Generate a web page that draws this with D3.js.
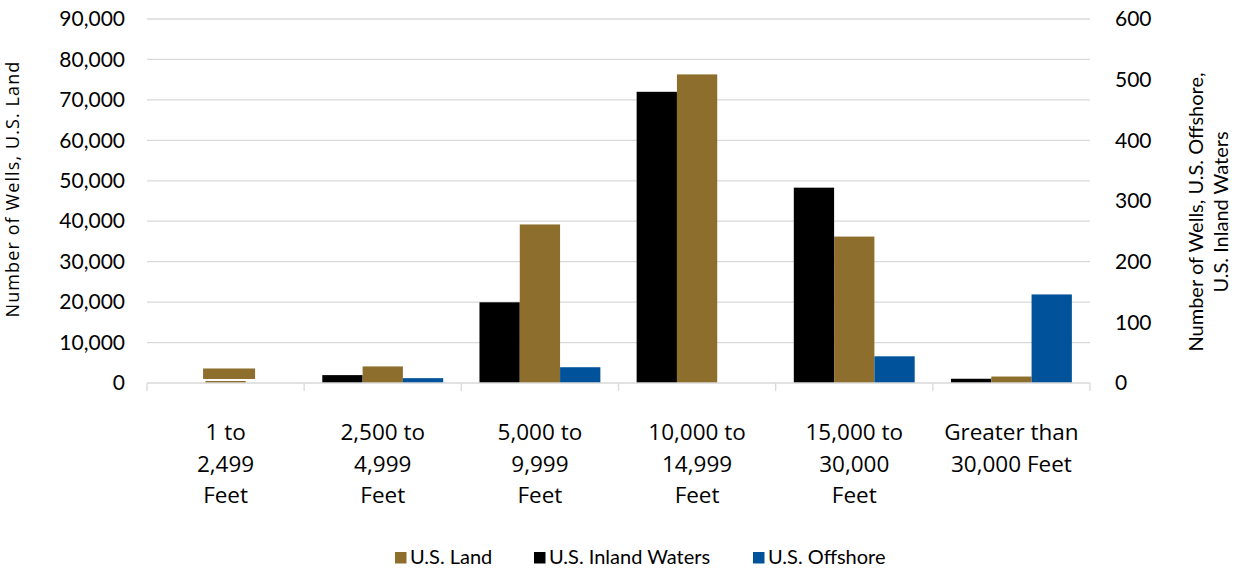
<!DOCTYPE html>
<html><head><meta charset="utf-8">
<script src="https://cdn.jsdelivr.net/npm/d3@7"></script>
<style>
body{margin:0;background:#fff;}
text{font-family:Lato,"Open Sans",sans-serif;fill:#000;}
</style></head>
<body><svg id="c" width="1245" height="570"></svg>
<script>
const categories = [["1 to","2,499","Feet"],["2,500 to","4,999","Feet"],["5,000 to","9,999","Feet"],["10,000 to","14,999","Feet"],["15,000 to","30,000","Feet"],["Greater than","30,000 Feet"]];
const seriesNames = ["U.S. Inland Waters","U.S. Land","U.S. Offshore"];
const landValues = [500, 4100, 39200, 76300, 36200, 1600];
const inlandValues = [0, 13, 133, 480, 322, 7];
const offshoreValues = [0, 8, 26, 0, 44, 146];
const leftTicks = [0,10000,20000,30000,40000,50000,60000,70000,80000,90000];
const rightTicks = [0,100,200,300,400,500,600];
const legendOrder = ["U.S. Land","U.S. Inland Waters","U.S. Offshore"];
const colors = {"U.S. Land":"#8e6e2c","U.S. Inland Waters":"#000000","U.S. Offshore":"#00539b"};

(function(){
const svg = d3.select("#c");
const pL = 147, pR = 1090, pT = 19, pB = 383;
const x0 = d3.scaleBand().domain(d3.range(categories.length)).range([pL,pR]).padding(0);
const x1 = d3.scaleBand().domain(seriesNames).range([0,x0.bandwidth()]).paddingInner(0).paddingOuter(0.45);
const yL = d3.scaleLinear().domain([0,90000]).range([pB,pT]);
const yR = d3.scaleLinear().domain([0,600]).range([pB,pT]);

// gridlines
svg.append("g").selectAll("line").data(leftTicks.slice(1)).join("line")
  .attr("x1",pL).attr("x2",pR).attr("y1",d=>yL(d)).attr("y2",d=>yL(d))
  .attr("stroke","#d9d9d9").attr("stroke-width",1.3);

// bars
const rows = categories.map((c,i)=>[
  {s:"U.S. Inland Waters", v:inlandValues[i], y:yR},
  {s:"U.S. Land", v:landValues[i], y:yL},
  {s:"U.S. Offshore", v:offshoreValues[i], y:yR}
]);
const g = svg.append("g").selectAll("g").data(rows).join("g")
  .attr("transform",(d,i)=>`translate(${x0(i)},0)`);
g.selectAll("rect").data(d=>d.filter(e=>e.v>0)).join("rect")
  .attr("x",d=>x1(d.s)).attr("width",x1.bandwidth())
  .attr("y",d=>d.y(d.v)).attr("height",d=>pB-d.y(d.v))
  .attr("fill",d=>colors[d.s]);

// label box above first land bar (as in reference)
const lb = rows[0][1];
svg.append("rect")
  .attr("x", x0(0)+x1("U.S. Land")+x1.bandwidth()/2-26+3.5).attr("width",52)
  .attr("y", yL(lb.v)-12.5).attr("height",10.5)
  .attr("fill",colors["U.S. Land"]);

// baseline
svg.append("line").attr("x1",pL).attr("x2",pR).attr("y1",pB).attr("y2",pB)
  .attr("stroke","#d9d9d9").attr("stroke-width",1.3);
svg.append("g").selectAll("line").data(d3.range(categories.length+1)).join("line")
  .attr("x1",i=>pL+i*x0.step()).attr("x2",i=>pL+i*x0.step())
  .attr("y1",pB).attr("y2",pB+8).attr("stroke","#d9d9d9").attr("stroke-width",1.3);

// x labels
const xl = svg.append("g").selectAll("text").data(categories).join("text")
  .attr("text-anchor","middle").attr("font-size",22.5).style("font-family","'Open Sans'")
  .attr("x",(d,i)=>x0(i)+x0.bandwidth()/2).attr("y",440);
xl.selectAll("tspan").data(d=>d).join("tspan")
  .attr("x",function(){return this.parentNode.getAttribute("x");})
  .attr("dy",(d,i)=>i===0?0:31.5).text(d=>d);

// left axis
const fmt = d3.format(",");
const la = svg.append("g").attr("transform",`translate(${pL},0)`)
  .call(d3.axisLeft(yL).tickValues(leftTicks).tickFormat(fmt).tickSize(0).tickPadding(22));
la.select(".domain").remove();
la.selectAll("text").attr("font-size",21).attr("font-family","Lato").attr("fill","#000");

// right axis
const ra = svg.append("g").attr("transform",`translate(${pR},0)`)
  .call(d3.axisRight(yR).tickValues(rightTicks).tickSize(0).tickPadding(25));
ra.select(".domain").remove();
ra.selectAll("text").attr("font-size",21).attr("font-family","Lato").attr("fill","#000");

// axis titles
svg.append("text").attr("transform","translate(18.5,189) rotate(-90)")
  .attr("text-anchor","middle").attr("font-size",18).style("font-family","'Open Sans'")
  .attr("letter-spacing",1.1)
  .text("Number of Wells, U.S. Land");
const rt = svg.append("text").attr("transform","translate(1203,212) rotate(-90)")
  .attr("text-anchor","middle").attr("font-size",20);
rt.append("tspan").attr("x",0).attr("dy",0).text("Number of Wells, U.S. Offshore,");
rt.append("tspan").attr("x",0).attr("dy",25).text("U.S. Inland Waters");

// legend
const legX = [395, 534, 753];
const lg = svg.append("g").selectAll("g").data(legendOrder).join("g")
  .attr("transform",(d,i)=>`translate(${legX[i]},552)`);
lg.append("rect").attr("width",11.5).attr("height",11.5).attr("fill",d=>colors[d]);
lg.append("text").attr("x",15).attr("y",11.5).attr("font-size",20).text(d=>d);
})();
</script></body></html>
